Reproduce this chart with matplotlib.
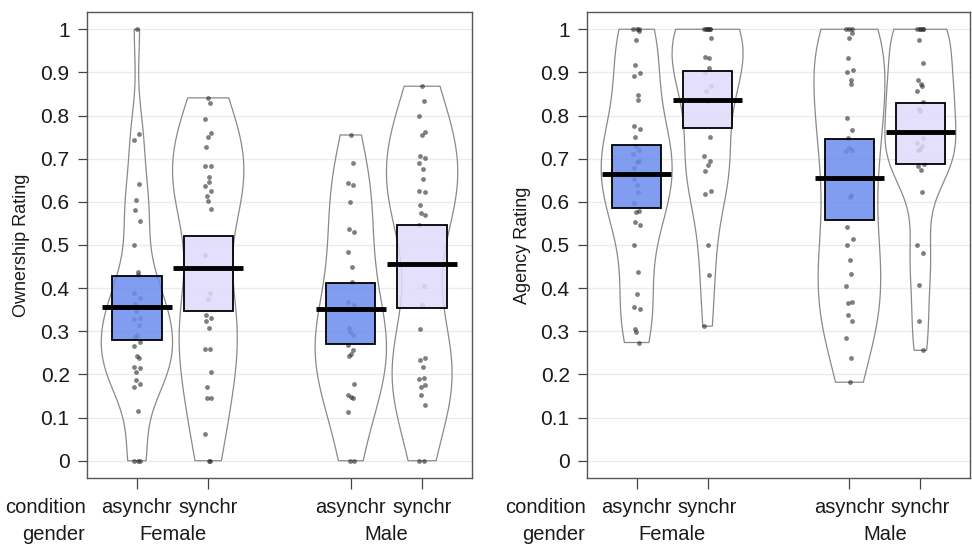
import numpy as np
import matplotlib
matplotlib.use("Agg")
import matplotlib.pyplot as plt
from matplotlib import transforms

plt.rcParams['font.family'] = ['Liberation Sans', 'DejaVu Sans']

# ---- data ----
conditions = ['asynchr', 'synchr', 'asynchr', 'synchr']
genders = ['Female', 'Male']

own_f_async = [1.0, 0.758, 0.743, 0.641, 0.604, 0.581, 0.555, 0.5, 0.437, 0.431,
               0.389, 0.377, 0.364, 0.346, 0.331, 0.328, 0.314, 0.291, 0.287, 0.275,
               0.266, 0.242, 0.238, 0.218, 0.214, 0.206, 0.187, 0.177, 0.172, 0.116,
               0.0, 0.0, 0.0]
own_f_sync = [0.841, 0.828, 0.791, 0.76, 0.751, 0.728, 0.683, 0.683, 0.658, 0.646,
              0.637, 0.625, 0.614, 0.602, 0.583, 0.477, 0.389, 0.375, 0.337, 0.331,
              0.325, 0.308, 0.26, 0.258, 0.205, 0.172, 0.146, 0.145, 0.062, 0.0, 0.0]
own_m_async = [0.755, 0.691, 0.643, 0.638, 0.6, 0.538, 0.531, 0.483, 0.448, 0.415,
               0.369, 0.362, 0.308, 0.298, 0.292, 0.268, 0.256, 0.248, 0.243, 0.179,
               0.152, 0.148, 0.145, 0.112, 0.0, 0.0]
own_m_sync = [0.868, 0.833, 0.8, 0.762, 0.756, 0.706, 0.702, 0.691, 0.675, 0.652,
              0.625, 0.623, 0.592, 0.575, 0.569, 0.546, 0.404, 0.362, 0.305, 0.237,
              0.233, 0.218, 0.192, 0.189, 0.175, 0.172, 0.152, 0.129, 0.0, 0.0]

agc_f_async = [1.0, 1.0, 1.0, 0.995, 0.974, 0.918, 0.898, 0.891, 0.848, 0.835,
               0.775, 0.768, 0.751, 0.729, 0.72, 0.712, 0.695, 0.692, 0.679, 0.664,
               0.654, 0.638, 0.623, 0.597, 0.579, 0.577, 0.554, 0.546, 0.5, 0.437,
               0.387, 0.356, 0.351, 0.306, 0.298, 0.274]
agc_f_sync = [1.0, 1.0, 1.0, 1.0, 1.0, 1.0, 0.979, 0.935, 0.933, 0.91, 0.902,
              0.868, 0.858, 0.833, 0.751, 0.706, 0.695, 0.685, 0.672, 0.625, 0.618,
              0.5, 0.431, 0.312]
agc_m_async = [1.0, 1.0, 1.0, 0.992, 0.979, 0.933, 0.906, 0.902, 0.882, 0.872,
               0.795, 0.766, 0.748, 0.725, 0.72, 0.718, 0.615, 0.612, 0.541, 0.514,
               0.5, 0.466, 0.433, 0.406, 0.368, 0.366, 0.338, 0.325, 0.285, 0.238,
               0.182]
agc_m_sync = [1.0, 1.0, 1.0, 1.0, 1.0, 0.974, 0.922, 0.882, 0.872, 0.869, 0.856,
              0.831, 0.815, 0.81, 0.748, 0.737, 0.729, 0.723, 0.72, 0.687, 0.683,
              0.674, 0.623, 0.5, 0.481, 0.408, 0.323, 0.256]

own_means = [0.356, 0.446, 0.352, 0.455]
own_lo = [0.279, 0.347, 0.270, 0.354]
own_hi = [0.429, 0.522, 0.412, 0.547]

agc_means = [0.665, 0.836, 0.655, 0.762]
agc_lo = [0.585, 0.772, 0.558, 0.687]
agc_hi = [0.731, 0.904, 0.746, 0.828]

positions = [1, 2, 4, 5]
box_colors = [(0.42, 0.55, 0.93), (0.88, 0.86, 0.99)] * 2


def nrd0(kde):
    # R's default bandwidth (bw.nrd0), returned as a factor of the sd
    x = kde.dataset.ravel()
    sd = np.std(x, ddof=1)
    q75, q25 = np.percentile(x, [75, 25])
    lo = min(sd, (q75 - q25) / 1.34)
    return 0.9 * lo * len(x) ** (-0.2) / sd


def pirate(ax, groups, means, lo, hi, ylabel, xlab_x):
    for y in np.arange(0, 1.01, 0.1):
        ax.axhline(y, color='#ebebeb', lw=1, zorder=0)

    vp = ax.violinplot(groups, positions=positions, widths=1.0, bw_method=nrd0,
                       showextrema=False, points=300)
    for body in vp['bodies']:
        body.set_facecolor('none')
        body.set_edgecolor('#8a8a8a')
        body.set_linewidth(0.9)
        body.set_alpha(1)
        body.set_zorder(1)

    for pos, vals in zip(positions, groups):
        n = len(vals)
        jit = 0.045 * np.sin(np.arange(n) * 2.39996)
        ax.scatter(pos + jit, vals, s=12, color='#2a2a2a', alpha=0.6,
                   linewidths=0, zorder=2)

    for pos, m, l, h, c in zip(positions, means, lo, hi, box_colors):
        ax.add_patch(plt.Rectangle((pos - 0.345, l), 0.69, h - l, facecolor=c,
                                   edgecolor='none', alpha=0.85, zorder=3))
        ax.add_patch(plt.Rectangle((pos - 0.345, l), 0.69, h - l,
                                   facecolor='none', edgecolor='black',
                                   lw=1.3, zorder=3))
        ax.plot([pos - 0.49, pos + 0.49], [m, m], color='black', lw=3.5,
                solid_capstyle='butt', zorder=4)

    ax.set_xlim(0.3, 5.7)
    ax.set_ylim(-0.04, 1.04)
    ax.set_yticks(np.arange(0, 1.01, 0.1))
    ax.set_yticklabels(['0', '0.1', '0.2', '0.3', '0.4', '0.5', '0.6', '0.7',
                        '0.8', '0.9', '1'])
    ax.set_xticks(positions)
    ax.set_xticklabels([])
    ax.tick_params(axis='y', length=6.5, width=0.9, pad=6, labelsize=15,
                   color='#444444', labelcolor='#1a1a1a')
    ax.tick_params(axis='x', length=8, width=0.9, color='#444444')
    for sp in ax.spines.values():
        sp.set_color('#555555')
        sp.set_linewidth(1)

    tr = transforms.blended_transform_factory(ax.transData, ax.transAxes)
    for pos, lab in zip(positions, conditions):
        ax.text(pos, -0.064, lab, transform=tr, ha='center', va='center',
                fontsize=14.5, color='#1a1a1a')
    for pos, lab in zip([1.5, 4.5], genders):
        ax.text(pos, -0.122, lab, transform=tr, ha='center', va='center',
                fontsize=14.5, color='#1a1a1a')
    ax.text(-0.004, -0.064, 'condition', transform=ax.transAxes, ha='right',
            va='center', fontsize=14.5, color='#1a1a1a')
    ax.text(-0.004, -0.122, 'gender', transform=ax.transAxes, ha='right',
            va='center', fontsize=14.5, color='#1a1a1a')

    ax.figure.text(xlab_x, 1 - 245 / 544, ylabel, rotation=90, ha='center',
                   va='center', fontsize=13, color='#1a1a1a')


fig = plt.figure(figsize=(9.72, 5.44), dpi=100)
ax1 = fig.add_axes([87 / 972, 66 / 544, 385 / 972, 466 / 544])
ax2 = fig.add_axes([587 / 972, 66 / 544, 383 / 972, 466 / 544])

pirate(ax1, [own_f_async, own_f_sync, own_m_async, own_m_sync],
       own_means, own_lo, own_hi, 'Ownership Rating', 22 / 972)
pirate(ax2, [agc_f_async, agc_f_sync, agc_m_async, agc_m_sync],
       agc_means, agc_lo, agc_hi, 'Agency Rating', 522 / 972)

fig.savefig('out.png', dpi=100)
